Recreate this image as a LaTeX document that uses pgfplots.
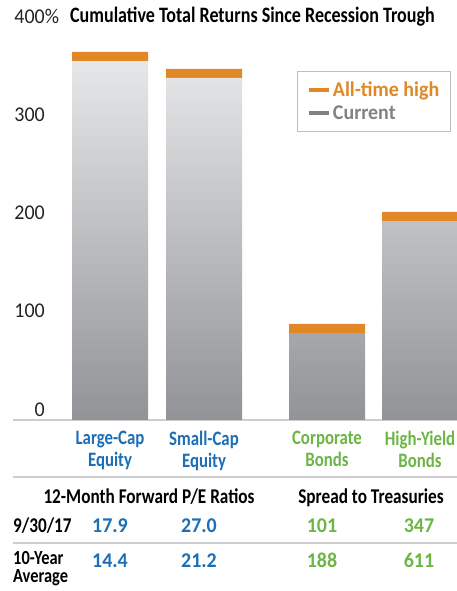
\documentclass[border=0pt]{standalone}
\usepackage{fontspec}
\setmainfont{Carlito}[FakeStretch=0.82]
\newfontfamily\widef{Carlito}[FakeStretch=0.95]
\usepackage{pgfplots}
\pgfplotsset{compat=1.18}
\definecolor{orangeC}{RGB}{224,135,38}
\definecolor{blueC}{RGB}{28,110,182}
\definecolor{greenC}{RGB}{108,181,70}
\definecolor{grayTxt}{RGB}{128,130,133}
\definecolor{tickC}{RGB}{35,35,35}
\definecolor{barTop}{RGB}{230,231,233}
\definecolor{barBot}{RGB}{146,147,150}
\definecolor{lineC}{RGB}{205,205,207}
\definecolor{boxC}{RGB}{190,190,192}
\newcommand\fs{\fontsize{20.5}{22}\selectfont}
\newcommand\fsh{\fontsize{21}{22}\selectfont}
\newcommand\fsv{\widef\fontsize{21}{22}\selectfont}
\newcommand\fst{\fontsize{22}{24}\selectfont}

\begin{document}
\begin{tikzpicture}[x=1pt,y=1pt]
\useasboundingbox (0,0) rectangle (457,591);
\begin{axis}[
    at={(13pt,171pt)}, anchor=south west, scale only axis,
    width=444pt, height=393.2pt,
    xmin=13, xmax=457, ymin=0, ymax=400,
    ybar stacked, bar width=76,
    axis x line=bottom, axis y line=left,
    x axis line style={-, draw=lineC, line width=2pt},
    y axis line style={draw=none},
    major tick length=0pt,
    xtick={110,204,327,420},
    xticklabels={
        {\textcolor{blueC}{Large-Cap}\\\textcolor{blueC}{Equity}},
        {\textcolor{blueC}{Small-Cap}\\\textcolor{blueC}{Equity}},
        {\textcolor{greenC}{Corporate}\\\textcolor{greenC}{Bonds}},
        {\textcolor{greenC}{High-Yield}\\\textcolor{greenC}{Bonds}}},
    xticklabel style={align=center, anchor=north, inner sep=0pt, yshift=-11pt, font=\fs\bfseries},
    ytick={0,100,200,300,400},
    yticklabels={0,100,200,300,{400\rlap{\%}}},
    yticklabel style={anchor=east, inner sep=0pt, xshift=32pt, yshift=10.5pt, font=\fsv, text=tickC},
    clip=false,
    legend style={at={(0.6396,0.8876)}, anchor=north west, draw=boxC, fill=white,
        line width=1pt, inner xsep=10pt, inner ysep=9pt, font=\fsv\bfseries,
        row sep=4.5pt, nodes={inner sep=1.5pt}},
    legend cell align=left,
]
    % current value (grey, shaded) and all-time-high cap (orange)
    \addplot[forget plot, draw=none, top color=barTop, bottom color=barBot]
        coordinates {(110,365.2) (204,348.0) (327,88.5) (420,202.4)};
    \addplot[forget plot, draw=none, fill=orangeC]
        coordinates {(110,9.2) (204,9.1) (327,9.2) (420,9.2)};
    \addlegendimage{legend image code/.code={\draw[orangeC, line width=4pt] (0pt,0pt) -- (20pt,0pt);}}
    \addlegendentry{\textcolor{orangeC}{All-time high}}
    \addlegendimage{legend image code/.code={\draw[grayTxt, line width=4pt] (0pt,0pt) -- (20pt,0pt);}}
    \addlegendentry{\textcolor{grayTxt}{Current}}
\end{axis}

\node[anchor=base west, inner sep=0pt, font=\fst\bfseries] at (70,568.5)
    {Cumulative Total Returns Since Recession Trough};

\draw[lineC, line width=1.5pt] (13,114) -- (457,114);
\draw[lineC, line width=1.5pt] (13,48) -- (457,48);

\node[anchor=base, inner sep=0pt, font=\fsh\bfseries] at (149,87) {12-Month Forward P/E Ratios};
\node[anchor=base, inner sep=0pt, font=\fsh\bfseries] at (371,87) {Spread to Treasuries};

\node[anchor=base west, inner sep=0pt, font=\fsh\bfseries] at (13,58) {9/30/17};
\node[anchor=base, inner sep=0pt, font=\fsv\bfseries, text=blueC] at (110,58) {17.9};
\node[anchor=base, inner sep=0pt, font=\fsv\bfseries, text=blueC] at (199,58) {27.0};
\node[anchor=base, inner sep=0pt, font=\fsv\bfseries, text=greenC] at (322,58) {101};
\node[anchor=base, inner sep=0pt, font=\fsv\bfseries, text=greenC] at (419,58) {347};

\node[anchor=north west, inner sep=0pt, align=left, font=\fontsize{20}{18}\selectfont\bfseries]
    at (13,40) {10-Year\\Average};
\node[anchor=base, inner sep=0pt, font=\fsv\bfseries, text=blueC] at (110,23) {14.4};
\node[anchor=base, inner sep=0pt, font=\fsv\bfseries, text=blueC] at (199,23) {21.2};
\node[anchor=base, inner sep=0pt, font=\fsv\bfseries, text=greenC] at (322,23) {188};
\node[anchor=base, inner sep=0pt, font=\fsv\bfseries, text=greenC] at (419,23) {611};
\end{tikzpicture}
\end{document}
